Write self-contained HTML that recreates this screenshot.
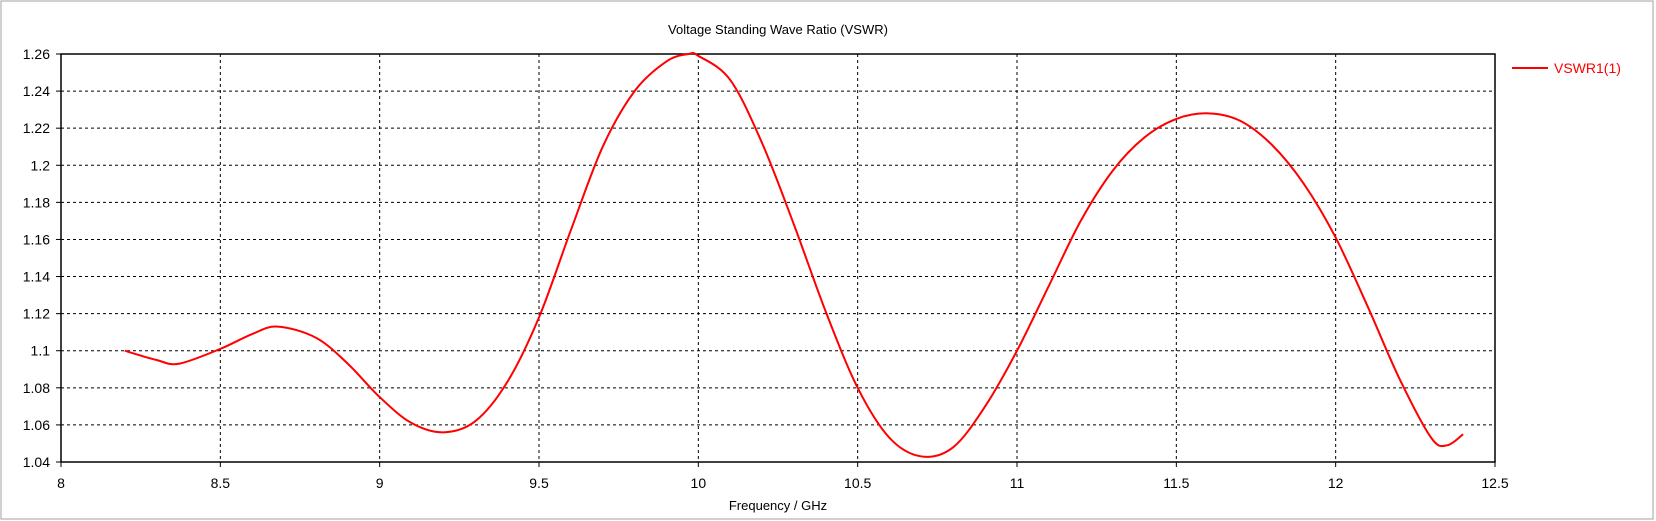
<!DOCTYPE html>
<html><head><meta charset="utf-8"><style>
body{margin:0;background:#fff;}
svg{display:block;font-family:"Liberation Sans",sans-serif;}
</style></head><body>
<svg id="chart" width="1656" height="521">
<rect x="1" y="1" width="1652" height="518" fill="#fff" stroke="#a0a0a0"/>
<text x="778" y="34" text-anchor="middle" font-size="13">Voltage Standing Wave Ratio (VSWR)</text>
<g id="grid"></g>
<rect x="61" y="54" width="1434" height="408" fill="none" stroke="#000" stroke-width="1.5"/>
<g id="ticks"></g>
<path id="series" fill="none" stroke="#ff0000" stroke-width="2"/>
<text x="778" y="510" text-anchor="middle" font-size="13">Frequency / GHz</text>
<g>
<line x1="1512" y1="68" x2="1548" y2="68" stroke="#ff0000" stroke-width="2"/>
<text x="1554" y="73" font-size="14" fill="#ff0000">VSWR1(1)</text>
</g>
</svg>
<script>
const xTicks=[8,8.5,9,9.5,10,10.5,11,11.5,12,12.5];
const yTicks=[1.04,1.06,1.08,1.1,1.12,1.14,1.16,1.18,1.2,1.22,1.24,1.26];
const freq=[8.2,8.3,8.37,8.5,8.6,8.68,8.8,8.9,9.0,9.1,9.2,9.3,9.4,9.5,9.6,9.7,9.8,9.9,9.97,10.0,10.1,10.2,10.3,10.4,10.5,10.6,10.7,10.8,10.9,11.0,11.1,11.2,11.3,11.4,11.5,11.6,11.7,11.8,11.9,12.0,12.1,12.2,12.3,12.35,12.4];
const vswr=[1.100,1.095,1.093,1.101,1.109,1.113,1.107,1.093,1.075,1.061,1.056,1.062,1.083,1.118,1.165,1.210,1.240,1.256,1.260,1.259,1.246,1.212,1.168,1.121,1.080,1.053,1.043,1.048,1.070,1.100,1.135,1.170,1.197,1.215,1.225,1.228,1.224,1.211,1.190,1.161,1.124,1.085,1.053,1.049,1.055];
const X0=61,X1=1495,Y0=462,Y1=54;
const xs=v=>X0+(v-8)/(12.5-8)*(X1-X0);
const ys=v=>Y0-(v-1.04)/(1.26-1.04)*(Y0-Y1);
const NS='http://www.w3.org/2000/svg';
const grid=document.getElementById('grid'),ticks=document.getElementById('ticks');
function mk(tag,attrs,parent){const e=document.createElementNS(NS,tag);for(const k in attrs)e.setAttribute(k,attrs[k]);parent.appendChild(e);return e;}
xTicks.forEach(t=>{const x=xs(t);
 if(t>8&&t<12.5){const g=mk('line',{x1:x,x2:x,y1:Y1,y2:Y0,stroke:'#000','stroke-dasharray':'3,3'},grid);
 
 }
 mk('line',{x1:x,x2:x,y1:Y0,y2:Y0+5,stroke:'#000'},ticks);
 const l=mk('text',{x:x,y:488,'text-anchor':'middle','font-size':'14'},ticks);l.textContent=String(t);
 
 });
yTicks.forEach(t=>{const y=ys(t);
 if(t>1.04&&t<1.26){const g=mk('line',{x1:X0,x2:X1,y1:y,y2:y,stroke:'#000','stroke-dasharray':'3,3'},grid);
 
 }
 mk('line',{x1:X0-5,x2:X0,y1:y,y2:y,stroke:'#000'},ticks);
 const l=mk('text',{x:50,y:y+5,'text-anchor':'end','font-size':'14'},ticks);l.textContent=String(t);
 
 });
const P=freq.map((f,i)=>[xs(f),ys(vswr[i])]);
let d='M'+P[0][0]+','+P[0][1];
for(let i=0;i<P.length-1;i++){const p0=P[i-1]||P[i],p1=P[i],p2=P[i+1],p3=P[i+2]||P[i+1];
 const c1=[p1[0]+(p2[0]-p0[0])/6,p1[1]+(p2[1]-p0[1])/6],c2=[p2[0]-(p3[0]-p1[0])/6,p2[1]-(p3[1]-p1[1])/6];
 d+=' C'+c1+' '+c2+' '+p2;}
document.getElementById('series').setAttribute('d',d);
</script>
</body></html>
